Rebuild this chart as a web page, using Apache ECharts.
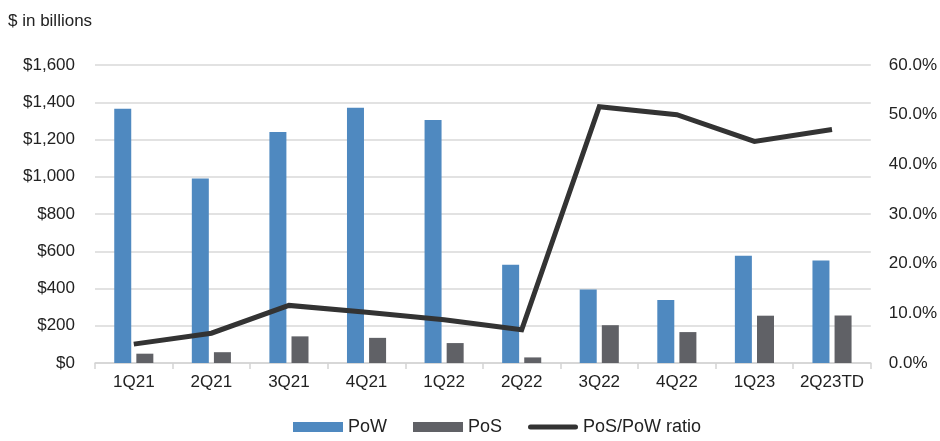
<!DOCTYPE html>
<html>
<head>
<meta charset="utf-8">
<script src="https://cdn.jsdelivr.net/npm/echarts@6/dist/echarts.min.js"></script>
<style>
  html, body { margin: 0; padding: 0; background: #fff; }
  #chart { width: 940px; height: 441px; }
</style>
</head>
<body>
<div id="chart"></div>
<script>
// Quarterly volumes ($ billions) and the PoS share of PoW
const quarters = ['1Q21', '2Q21', '3Q21', '4Q21', '1Q22', '2Q22', '3Q22', '4Q22', '1Q23', '2Q23TD'];
const powValues = [1365, 990, 1240, 1370, 1305, 528, 394, 338, 576, 550];
const posValues = [50, 58, 143, 135, 107, 30, 203, 166, 254, 255];
const ratioValues = [3.8, 6.0, 11.6, 10.2, 8.7, 6.7, 51.6, 50.0, 44.6, 47.0];
const leftTicks = { min: 0, max: 1600, interval: 200 };
const rightTicks = { min: 0, max: 60, interval: 10 };

const FONT = '"Liberation Sans", Arial, sans-serif';
const chart = echarts.init(document.getElementById('chart'), null, { renderer: 'canvas' });

chart.setOption({
  animation: false,
  backgroundColor: '#ffffff',
  textStyle: { fontFamily: FONT },
  graphic: [{
    type: 'text', left: 8, top: 13,
    style: { text: '$ in billions', font: '17px ' + FONT, fill: '#222' }
  }],
  grid: { left: 95, right: 67, top: 65, bottom: 78, containLabel: false },
  legend: {
    bottom: 0, left: 288,
    itemWidth: 50, itemHeight: 10, itemGap: 26,
    textStyle: { fontSize: 18, color: '#222', fontFamily: FONT, padding: [0, 0, 0, 0] },
    data: [
      { name: 'PoW', icon: 'rect' },
      { name: 'PoS', icon: 'rect' },
      { name: 'PoS/PoW ratio', icon: 'path://M2.5,0 L47.5,0 A2.5,2.5 0 0 1 47.5,5 L2.5,5 A2.5,2.5 0 0 1 2.5,0 Z' }
    ]
  },
  xAxis: {
    type: 'category', data: quarters, boundaryGap: true,
    axisLine: { lineStyle: { color: '#d4d4d4', width: 1.5 } },
    axisTick: { show: true, length: 6, lineStyle: { color: '#d4d4d4', width: 1.5 } },
    axisLabel: { interval: 0, color: '#222', fontSize: 17, fontFamily: FONT, margin: 11 }
  },
  yAxis: [{
    type: 'value', min: leftTicks.min, max: leftTicks.max, interval: leftTicks.interval,
    axisLine: { show: false }, axisTick: { show: false },
    splitLine: { lineStyle: { color: '#d9d9d9', width: 1.5 } },
    axisLabel: {
      color: '#222', fontSize: 17, fontFamily: FONT, margin: 20,
      formatter: v => '$' + v.toLocaleString('en-US')
    }
  }, {
    type: 'value', min: rightTicks.min, max: rightTicks.max, interval: rightTicks.interval,
    position: 'right',
    axisLine: { show: false }, axisTick: { show: false }, splitLine: { show: false },
    axisLabel: {
      color: '#222', fontSize: 17, fontFamily: FONT, margin: 18,
      formatter: v => v.toFixed(1) + '%'
    }
  }],
  series: [{
    name: 'PoW', type: 'bar', data: powValues,
    barWidth: 17, barGap: '30%',
    itemStyle: { color: '#4f89c0' }
  }, {
    name: 'PoS', type: 'bar', data: posValues,
    barWidth: 17, barGap: '30%',
    itemStyle: { color: '#606166' }
  }, {
    name: 'PoS/PoW ratio', type: 'line', yAxisIndex: 1, data: ratioValues,
    symbol: 'none', z: 5,
    lineStyle: { color: '#333333', width: 5, join: 'miter' },
    itemStyle: { color: '#333333' }
  }]
});
</script>
</body>
</html>
